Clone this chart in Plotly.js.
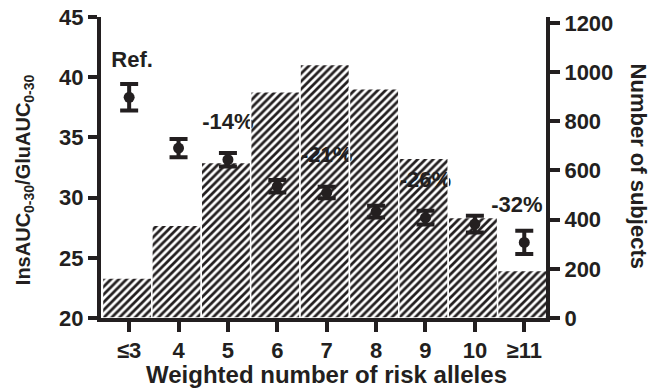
<!DOCTYPE html>
<html>
<head>
<meta charset="utf-8">
<script src="https://cdn.plot.ly/plotly-3.0.1.min.js"></script>
<style>html,body{margin:0;padding:0;background:#fff;}#chart{width:652px;height:391px;}</style>
</head>
<body>
<div id="chart"></div>
<script>
// ---- data ----
const categories = ['≤3', '4', '5', '6', '7', '8', '9', '10', '≥11'];
const subjects = [163, 377, 632, 920, 1031, 932, 650, 409, 193];
const ratioMean = [38.33, 34.11, 33.15, 30.94, 30.42, 28.83, 28.33, 27.80, 26.28];
const ratioErr = [1.10, 0.76, 0.56, 0.52, 0.48, 0.49, 0.57, 0.69, 0.97];
const changeLabels = ['Ref.', '', '-14%', '', '-21%', '', '-26%', '', '-32%'];
const leftTicks = [20, 25, 30, 35, 40, 45];
const rightTicks = [0, 200, 400, 600, 800, 1000, 1200];

// ---- drawing ----
const INK = '#231f20';
const FAM = 'Liberation Sans, Arial, Helvetica, sans-serif';
const idx = categories.map((_, i) => i);
const n = categories.length;

const lblIdx = idx.filter(i => changeLabels[i] !== '');
const labelTrace = {
  type: 'scatter', mode: 'text', xaxis: 'x', yaxis: 'y',
  x: lblIdx.map(i => i + (i === 0 ? 0.06 : (i === n - 1 ? -0.15 : 0))),
  y: lblIdx.map(i => ratioMean[i] + 3),
  text: lblIdx.map(i => changeLabels[i]),
  textposition: 'middle center',
  textfont: {family: FAM, size: 22, color: INK, weight: 'bold'},
  hoverinfo: 'skip', showlegend: false, cliponaxis: false
};

const barTrace = {
  type: 'bar', xaxis: 'x', yaxis: 'y2',
  x: idx, y: subjects, width: 1, offset: -0.54,
  marker: {
    color: INK,
    pattern: {shape: '/', size: 5.5, solidity: 0.5, fgcolor: INK, bgcolor: 'rgba(0,0,0,0)', fillmode: 'replace'},
    line: {color: '#ffffff', width: 1.5}
  },
  hoverinfo: 'skip', showlegend: false
};

const errTrace = {
  type: 'scatter', mode: 'markers', xaxis: 'x', yaxis: 'y3',
  x: idx, y: ratioMean,
  marker: {size: 11, color: INK},
  error_y: {type: 'data', array: ratioErr, visible: true, thickness: 4, width: 9, color: INK},
  hoverinfo: 'skip', showlegend: false, cliponaxis: false
};

const tickFont = {family: FAM, size: 22, color: INK, weight: 'bold'};
const axisCommon = {
  showline: true, linewidth: 4, linecolor: INK, ticks: 'outside', tickwidth: 4,
  tickcolor: INK, showgrid: false, zeroline: false, tickfont: tickFont, fixedrange: true
};

const layout = {
  width: 652, height: 391,
  margin: {l: 101, r: 106, t: 17, b: 73, pad: 0},
  paper_bgcolor: '#ffffff', plot_bgcolor: '#ffffff',
  font: {family: FAM, color: INK, weight: 'bold'},
  showlegend: false,
  bargap: 0,
  xaxis: Object.assign({}, axisCommon, {
    range: [-0.57, 8.44], tickmode: 'array', tickvals: idx, ticktext: categories, ticklen: 10
  }),
  yaxis: Object.assign({}, axisCommon, {
    range: [20, 45], tickmode: 'array', tickvals: leftTicks, ticklen: 9, side: 'left'
  }),
  yaxis2: Object.assign({}, axisCommon, {
    overlaying: 'y', side: 'right', range: [0, 1224], tickmode: 'array', tickvals: rightTicks, ticklen: 10
  }),
  yaxis3: {overlaying: 'y', range: [20, 45], visible: false, fixedrange: true},
  annotations: [
    {xref: 'paper', yref: 'paper', x: -0.173, y: 0.458, xanchor: 'center', yanchor: 'middle',
     textangle: -90, showarrow: false,
     text: 'InsAUC<sub>0-30</sub>/GluAUC<sub>0-30</sub>',
     font: {family: FAM, size: 20, color: INK, weight: 'bold'}},
    {xref: 'paper', yref: 'paper', x: 1.207, y: 0.506, xanchor: 'center', yanchor: 'middle',
     textangle: 90, showarrow: false, text: 'Number of subjects',
     font: {family: FAM, size: 22, color: INK, weight: 'bold'}},
    {xref: 'paper', yref: 'paper', x: 0.506, y: -0.188, xanchor: 'center', yanchor: 'middle',
     showarrow: false, text: 'Weighted number of risk alleles',
     font: {family: FAM, size: 24, color: INK, weight: 'bold'}}
  ]
};

Plotly.newPlot('chart', [labelTrace, barTrace, errTrace], layout, {staticPlot: true, displayModeBar: false});
</script>
</body>
</html>
